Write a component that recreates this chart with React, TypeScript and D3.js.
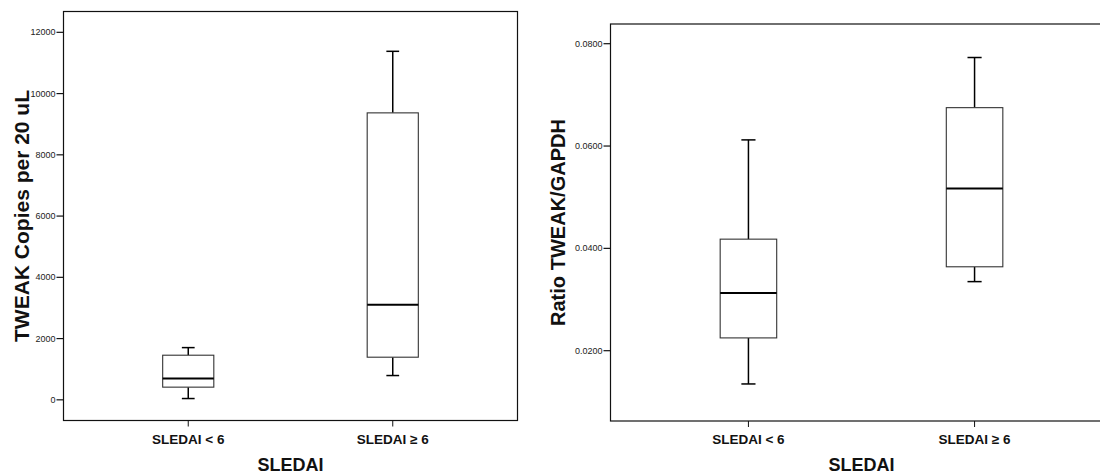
import * as d3 from "d3";
import React from "react";

// group labels shared by both panels
const categories = ["SLEDAI < 6", "SLEDAI ≥ 6"];

// panel A: TWEAK copies per 20 uL (box stats)
const copiesMin = [42, 793];
const copiesQ1 = [414, 1392];
const copiesMedian = [695, 3108];
const copiesQ3 = [1457, 9370];
const copiesMax = [1705, 11380];
const copiesTicks = [0, 2000, 4000, 6000, 8000, 10000, 12000];

// panel B: ratio TWEAK/GAPDH
const ratioMin = [0.0135, 0.0335];
const ratioQ1 = [0.0225, 0.0364];
const ratioMedian = [0.0313, 0.0517];
const ratioQ3 = [0.0418, 0.0675];
const ratioMax = [0.0612, 0.0773];
const ratioTicks = [0.02, 0.04, 0.06, 0.08];

const font = "'Liberation Sans', Arial, Helvetica, sans-serif";

function BoxPanel({ frame, domain, ticks, fmt, mins, q1s, meds, q3s, maxs, yTitle, yTitleX, yTitleLen }) {
  const x = d3.scalePoint().domain(categories).range([frame.left, frame.right]).padding(0.61);
  const y = d3.scaleLinear().domain(domain).range([frame.bottom, frame.top]);
  const boxW = x.step() * 0.25;
  const capW = boxW * 0.25;
  const midX = (frame.left + frame.right) / 2;
  const midY = (frame.top + frame.bottom) / 2;

  return (
    <g fontFamily={font}>
      <rect
        x={frame.left}
        y={frame.top}
        width={frame.right - frame.left}
        height={frame.bottom - frame.top}
        fill="none"
        stroke="#111"
        strokeWidth="1.2"
      />
      {ticks.map((t) => (
        <g key={t}>
          <line x1={frame.left - 7} x2={frame.left} y1={y(t)} y2={y(t)} stroke="#111" strokeWidth="1.2" />
          <text x={frame.left - 8} y={y(t)} dy="0.33em" textAnchor="end" fontSize="9" fill="#222">
            {fmt(t)}
          </text>
        </g>
      ))}
      {categories.map((c, i) => {
        const cx = x(c);
        return (
          <g key={c}>
            <line x1={cx} x2={cx} y1={frame.bottom} y2={frame.bottom + 6} stroke="#111" strokeWidth="1" />
            <text x={cx} y={443.5} textAnchor="middle" fontSize="13.5" fontWeight="bold" fill="#111">
              {c}
            </text>
            {/* whiskers */}
            <g stroke="#000" strokeWidth="1.5">
              <line x1={cx} x2={cx} y1={y(q3s[i])} y2={y(maxs[i])} />
              <line x1={cx - capW / 2} x2={cx + capW / 2} y1={y(maxs[i])} y2={y(maxs[i])} />
              <line x1={cx} x2={cx} y1={y(q1s[i])} y2={y(mins[i])} />
              <line x1={cx - capW / 2} x2={cx + capW / 2} y1={y(mins[i])} y2={y(mins[i])} />
            </g>
            <rect
              x={cx - boxW / 2}
              y={y(q3s[i])}
              width={boxW}
              height={y(q1s[i]) - y(q3s[i])}
              fill="#fff"
              stroke="#333"
              strokeWidth="1.1"
            />
            <line
              x1={cx - boxW / 2}
              x2={cx + boxW / 2}
              y1={y(meds[i])}
              y2={y(meds[i])}
              stroke="#000"
              strokeWidth="2"
            />
          </g>
        );
      })}
      <text x={midX} y={470.5} textAnchor="middle" fontSize="18" fontWeight="bold" fill="#111">
        SLEDAI
      </text>
      <text
        transform={`translate(${yTitleX},${midY}) rotate(-90)`}
        textAnchor="middle"
        fontSize="19.5"
        fontWeight="bold"
        fill="#111"
        textLength={yTitleLen}
        lengthAdjust="spacingAndGlyphs"
      >
        {yTitle}
      </text>
    </g>
  );
}

export default function App() {
  return (
    <svg width={1100} height={473} style={{ position: "absolute", left: 0, top: 0, background: "#fff" }}>
      <BoxPanel
        frame={{ left: 63.5, right: 517.5, top: 11.5, bottom: 420.5 }}
        domain={[-675, 12680]}
        ticks={copiesTicks}
        fmt={(d) => String(d)}
        mins={copiesMin}
        q1s={copiesQ1}
        meds={copiesMedian}
        q3s={copiesQ3}
        maxs={copiesMax}
        yTitle="TWEAK Copies per 20 uL"
        yTitleX={28.5}
        yTitleLen={252}
      />
      <BoxPanel
        frame={{ left: 610.5, right: 1112.5, top: 24, bottom: 421 }}
        domain={[0.00626, 0.08385]}
        ticks={ratioTicks}
        fmt={d3.format(".4f")}
        mins={ratioMin}
        q1s={ratioQ1}
        meds={ratioMedian}
        q3s={ratioQ3}
        maxs={ratioMax}
        yTitle="Ratio TWEAK/GAPDH"
        yTitleX={565}
        yTitleLen={207}
      />
    </svg>
  );
}
